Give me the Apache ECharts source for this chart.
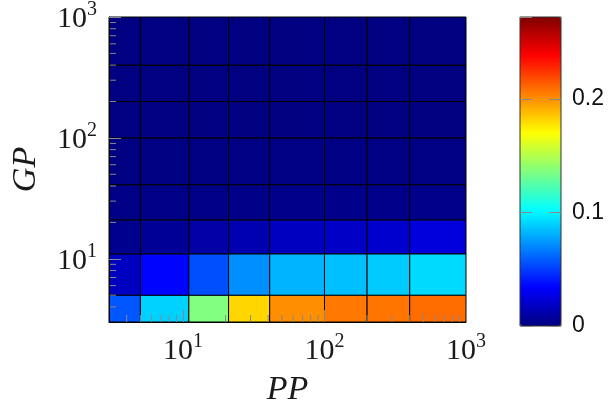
<!DOCTYPE html>
<html>
<head>
<meta charset="utf-8">
<script src="https://cdn.jsdelivr.net/npm/echarts@6/dist/echarts.min.js"></script>
<style>
html,body{margin:0;padding:0;background:#fff}
#chart{width:608px;height:412px}
</style>
</head>
<body>
<div id="chart"></div>
<script>
// cell edges on both log axes
const ppEdges = [3, 5, 11, 21, 41, 100, 200, 400, 1000];
const gpEdges = [3, 5, 11, 21, 41, 100, 200, 400, 1000];

// one array per GP band (low to high), values per PP band (low to high)
const gp3to5 = [0.057, 0.090, 0.136, 0.181, 0.200, 0.206, 0.207, 0.209];
const gp5to11 = [0.017, 0.035, 0.055, 0.072, 0.082, 0.085, 0.088, 0.092];
const gp11to21 = [0.004, 0.006, 0.010, 0.013, 0.017, 0.019, 0.021, 0.025];
const gp21to41 = [0.0015, 0.002, 0.002, 0.0025, 0.003, 0.003, 0.003, 0.003];
const gp41to100 = [0.0005, 0.0008, 0.0008, 0.001, 0.001, 0.001, 0.001, 0.001];
const gp100to200 = [0.0002, 0.0003, 0.0003, 0.0003, 0.0003, 0.0003, 0.0003, 0.0003];
const gp200to400 = [0, 0.0001, 0.0001, 0.0001, 0.0001, 0.0001, 0.0001, 0.0001];
const gp400to1000 = [0, 0, 0, 0, 0, 0, 0, 0];
const bands = [gp3to5, gp5to11, gp11to21, gp21to41, gp41to100, gp100to200, gp200to400, gp400to1000];

const minorTicks = [4, 5, 6, 7, 8, 9, 20, 30, 40, 50, 60, 70, 80, 90, 200, 300, 400, 500, 600, 700, 800, 900];
const axisMin = 3;
const colorMax = 0.272;
const jet = ['#000080', '#0000ff', '#0080ff', '#00ffff', '#80ff80', '#ffff00', '#ff8000', '#ff0000', '#800000'];

const cells = [];
bands.forEach(function (row, j) {
    row.forEach(function (v, i) {
        cells.push([ppEdges[i], ppEdges[i + 1], gpEdges[j], gpEdges[j + 1], v]);
    });
});

function powLabel(v) {
    const e = Math.round(Math.log10(v));
    if (Math.abs(Math.pow(10, e) - v) > 1e-6 * v) return '';
    return '{b|10}{s|' + e + '}';
}
const powRich = {
    b: {fontFamily: 'Liberation Serif', fontSize: 30, color: '#1a1a1a', lineHeight: 34, verticalAlign: 'bottom'},
    s: {fontFamily: 'Liberation Serif', fontSize: 20, color: '#1a1a1a', lineHeight: 20, verticalAlign: 'top'}
};
const nameStyle = {fontFamily: 'Liberation Serif', fontStyle: 'italic', fontSize: 34, color: '#1a1a1a'};

const chart = echarts.init(document.getElementById('chart'));
chart.setOption({
    animation: false,
    grid: [
        {left: 109, right: 142, top: 17, bottom: 86},
        {left: 520, width: 41, top: 17, bottom: 86, show: true, borderColor: '#333', borderWidth: 1, z: 10}
    ],
    xAxis: [
        {
            type: 'log', gridIndex: 0, min: axisMin, max: 1000, z: 10,
            name: 'PP', nameLocation: 'middle', nameGap: 51, nameTextStyle: nameStyle,
            axisLine: {lineStyle: {color: '#000', width: 1}},
            axisTick: {inside: true, length: 12, lineStyle: {color: '#888'}},
            splitLine: {show: false},
            axisLabel: {margin: 10, showMinLabel: false, formatter: powLabel, rich: powRich}
        },
        {type: 'value', gridIndex: 1, show: false, min: 0, max: 1}
    ],
    yAxis: [
        {
            type: 'log', gridIndex: 0, min: axisMin, max: 1000, z: 10,
            name: 'GP', nameLocation: 'middle', nameRotate: 90, nameGap: 66, nameTextStyle: nameStyle,
            axisLine: {lineStyle: {color: '#000', width: 1}},
            axisTick: {inside: true, length: 12, lineStyle: {color: '#888'}},
            splitLine: {show: false},
            axisLabel: {margin: 12, showMinLabel: false, formatter: powLabel, rich: powRich}
        },
        {
            type: 'value', gridIndex: 1, position: 'left', min: 0, max: colorMax, interval: 0.1, z: 10,
            axisLine: {show: false}, splitLine: {show: false}, axisLabel: {show: false},
            axisTick: {inside: true, length: 12, lineStyle: {color: '#888'}}
        },
        {
            type: 'value', gridIndex: 1, position: 'right', min: 0, max: colorMax, interval: 0.1, z: 10,
            axisLine: {show: false}, splitLine: {show: false},
            axisTick: {inside: true, length: 12, lineStyle: {color: '#888'}},
            axisLabel: {margin: 11, showMaxLabel: false, fontFamily: 'Liberation Sans', fontSize: 23, color: '#111'}
        }
    ],
    visualMap: {
        type: 'continuous', min: 0, max: colorMax, seriesIndex: 0, dimension: 4,
        inRange: {color: jet}, calculable: false, hoverLink: false,
        orient: 'vertical', left: 520, top: 17, itemWidth: 41, itemHeight: 309, padding: 0
    },
    series: [
        {
            type: 'custom', xAxisIndex: 0, yAxisIndex: 0,
            encode: {x: [0, 1], y: [2, 3]},
            data: cells,
            renderItem: function (params, api) {
                const p0 = api.coord([api.value(0), api.value(2)]);
                const p1 = api.coord([api.value(1), api.value(3)]);
                return {
                    type: 'rect',
                    shape: {x: p0[0], y: p1[1], width: p1[0] - p0[0], height: p0[1] - p1[1]},
                    style: {fill: api.visual('color'), stroke: '#000', lineWidth: 1}
                };
            }
        },
        {
            type: 'custom', xAxisIndex: 0, yAxisIndex: 0, z: 3,
            encode: {x: 0, y: 1},
            data: minorTicks.map(function (v) { return [v, axisMin]; }),
            renderItem: function (params, api) {
                const p = api.coord([api.value(0), api.value(1)]);
                return {type: 'line', shape: {x1: p[0], y1: p[1], x2: p[0], y2: p[1] - 7}, style: {stroke: '#888', lineWidth: 1}};
            }
        },
        {
            type: 'custom', xAxisIndex: 0, yAxisIndex: 0, z: 3,
            encode: {x: 0, y: 1},
            data: minorTicks.map(function (v) { return [axisMin, v]; }),
            renderItem: function (params, api) {
                const p = api.coord([api.value(0), api.value(1)]);
                return {type: 'line', shape: {x1: p[0], y1: p[1], x2: p[0] + 7, y2: p[1]}, style: {stroke: '#888', lineWidth: 1}};
            }
        }
    ]
});
</script>
</body>
</html>
